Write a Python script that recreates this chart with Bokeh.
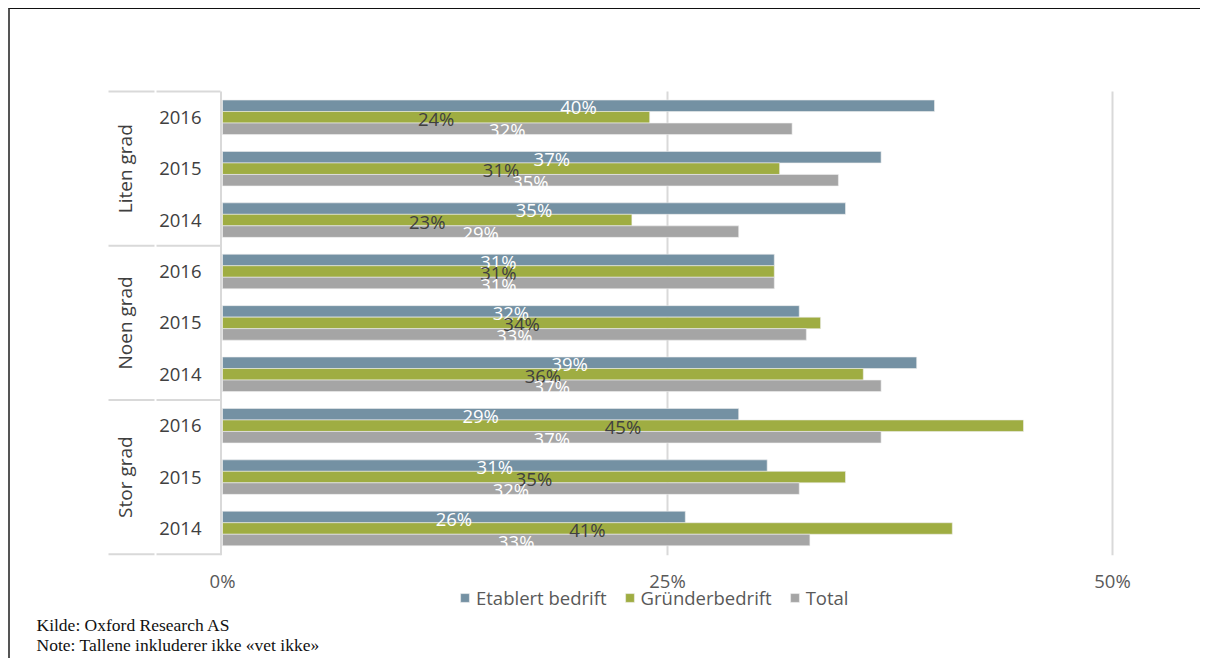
import numpy as np
from bokeh.plotting import figure
from bokeh.models import (Range1d, LinearAxis, FixedTicker, PrintfTickFormatter,
                          ColumnDataSource, Legend, LegendItem)
from bokeh.core.properties import value
from bokeh.embed import file_html
from bokeh.resources import INLINE

# ---------------- data ----------------
groups = ["Liten grad", "Noen grad", "Stor grad"]
years = ["2016", "2015", "2014"]
series_names = ["Etablert bedrift", "Gründerbedrift", "Total"]
# rows top -> bottom: Liten 2016, 2015, 2014, Noen 2016, 2015, 2014, Stor 2016, 2015, 2014
etablert = [40, 37, 35, 31, 32.4, 39, 29, 30.6, 26]
grunder = [24, 31.3, 23, 31, 33.6, 36, 45, 35, 41]
total = [32, 34.6, 29, 31, 32.8, 37, 37, 32.4, 33]
x_ticks = [0, 25, 50]
notes = ["Kilde: Oxford Research AS", "Note: Tallene inkluderer ikke «vet ikke»"]

# ---------------- styles ----------------
series_colors = ["#7491a3", "#9fad42", "#a5a5a5"]
label_colors = ["#ffffff", "#404040", "#ffffff"]
FONT = "Open Sans"
TEXT_COL = "#404040"
GRID_COL = "#d9d9d9"
FS = "18.5px"

# page geometry (pixels)
W, H = 1192, 650
TOP_PANEL = 40
FRAME_LEFT = 10
FRAME_TOP = 9 + TOP_PANEL
FRAME_BOTTOM = 9 + H
X0_PX, X50_PX = 222, 1112
PXU = (X50_PX - X0_PX) / 50.0
ROW_PITCH = 51.4
BOTTOM_ROW_PX = 528.0


def px2x(px):
    return (px - X0_PX) / PXU


def px2y(py):
    return (BOTTOM_ROW_PX - py) / ROW_PITCH


n = len(etablert)
rows = [n - 1 - i for i in range(n)]
bar_h = 0.224
offsets = [bar_h, 0.0, -bar_h]

p = figure(width=W, height=H,
           x_range=Range1d(px2x(FRAME_LEFT), px2x(FRAME_LEFT + W)),
           y_range=Range1d(px2y(FRAME_BOTTOM), px2y(FRAME_TOP)),
           x_axis_location=None, y_axis_location=None,
           toolbar_location=None, output_backend="svg",
           min_border=0, min_border_top=TOP_PANEL,
           outline_line_color=None,
           background_fill_color="white", border_fill_color="white")
p.grid.visible = False
p.styles = {"margin-left": "8px", "margin-top": "8px",
            "border-top": "1px solid #111111", "border-left": "2px solid #555555"}

# gridlines at 25%, 50%
y_lo, y_hi = rows[-1] - 0.52, rows[0] + 0.5
gx = [t for t in x_ticks if t > 0]
p.segment(x0=gx, x1=gx, y0=[y_lo] * len(gx), y1=[y_hi] * len(gx),
          line_color=GRID_COL, line_width=2)

# category axis line and separators
p.segment(x0=[px2x(220.5)], x1=[px2x(220.5)], y0=[y_lo], y1=[y_hi],
          line_color=GRID_COL, line_width=2)
bounds = [rows[0] + 0.5] + [rows[3 * g + 2] - 0.5 for g in range(len(groups))]
sx0 = [px2x(108)] * len(bounds) + [px2x(156)] * len(bounds)
sx1 = [px2x(154)] * len(bounds) + [px2x(220)] * len(bounds)
p.segment(x0=sx0, x1=sx1, y0=bounds + bounds, y1=bounds + bounds,
          line_color=GRID_COL, line_width=2)

# bars
series_vals = [etablert, grunder, total]
renderers = []
sources = []
for k, vals in enumerate(series_vals):
    ys = [r + offsets[k] for r in rows]
    src = ColumnDataSource(dict(
        y=ys, right=vals,
        lx=[v / 2 for v in vals],
        ly=[y - 0.02 for y in ys],
        lab=[f"{v:.0f}%" for v in vals]))
    sources.append(src)
    rr = p.hbar(y="y", left=0, right="right", height=bar_h, source=src,
                fill_color=series_colors[k], line_color="#eeeeee", line_width=0.6)
    renderers.append(rr)

for k, src in enumerate(sources):
    p.text(x="lx", y="ly", text="lab", source=src, text_align="center",
           text_baseline="middle", text_font=value(FONT), text_font_size=FS,
           text_color=label_colors[k])

# year labels
p.text(x=[px2x(201)] * n, y=rows, text=years * len(groups), text_align="right",
       text_baseline="middle", text_font=value(FONT), text_font_size=FS,
       text_color=TEXT_COL)

# group labels (vertical)
gcent = [float(np.mean(rows[3 * g:3 * g + 3])) for g in range(len(groups))]
p.text(x=[px2x(124)] * len(groups), y=gcent, text=groups, angle=np.pi / 2,
       text_align="center", text_baseline="middle", text_font=value(FONT),
       text_font_size="19px", text_color=TEXT_COL)

# x axis with percent ticks
ax = LinearAxis(ticker=FixedTicker(ticks=x_ticks),
                formatter=PrintfTickFormatter(format="%d%%"),
                axis_line_color=None, major_tick_line_color=None,
                minor_tick_line_color=None,
                major_label_text_font=FONT, major_label_text_font_size=FS,
                major_label_text_color="#595959", major_label_standoff=0,
                fixed_location=px2y(598))
p.add_layout(ax, "above")

# legend
legend = Legend(items=[LegendItem(label=series_names[k], renderers=[renderers[k]])
                       for k in range(3)],
                orientation="horizontal", location=(459 - FRAME_LEFT, FRAME_BOTTOM - 610),
                padding=0, margin=0, spacing=17, label_standoff=6,
                glyph_width=11, glyph_height=11, label_height=20,
                label_text_font=FONT, label_text_font_size=FS,
                label_text_color="#595959", border_line_color=None,
                background_fill_alpha=0)
p.add_layout(legend)

# notes
p.text(x=[px2x(36)] * 2, y=[px2y(624), px2y(644)], text=notes, text_align="left",
       text_baseline="middle", text_font=value("Liberation Serif"),
       text_font_size="17.5px", text_color="#111111")

open("out.html", "w").write(file_html(p, INLINE))
